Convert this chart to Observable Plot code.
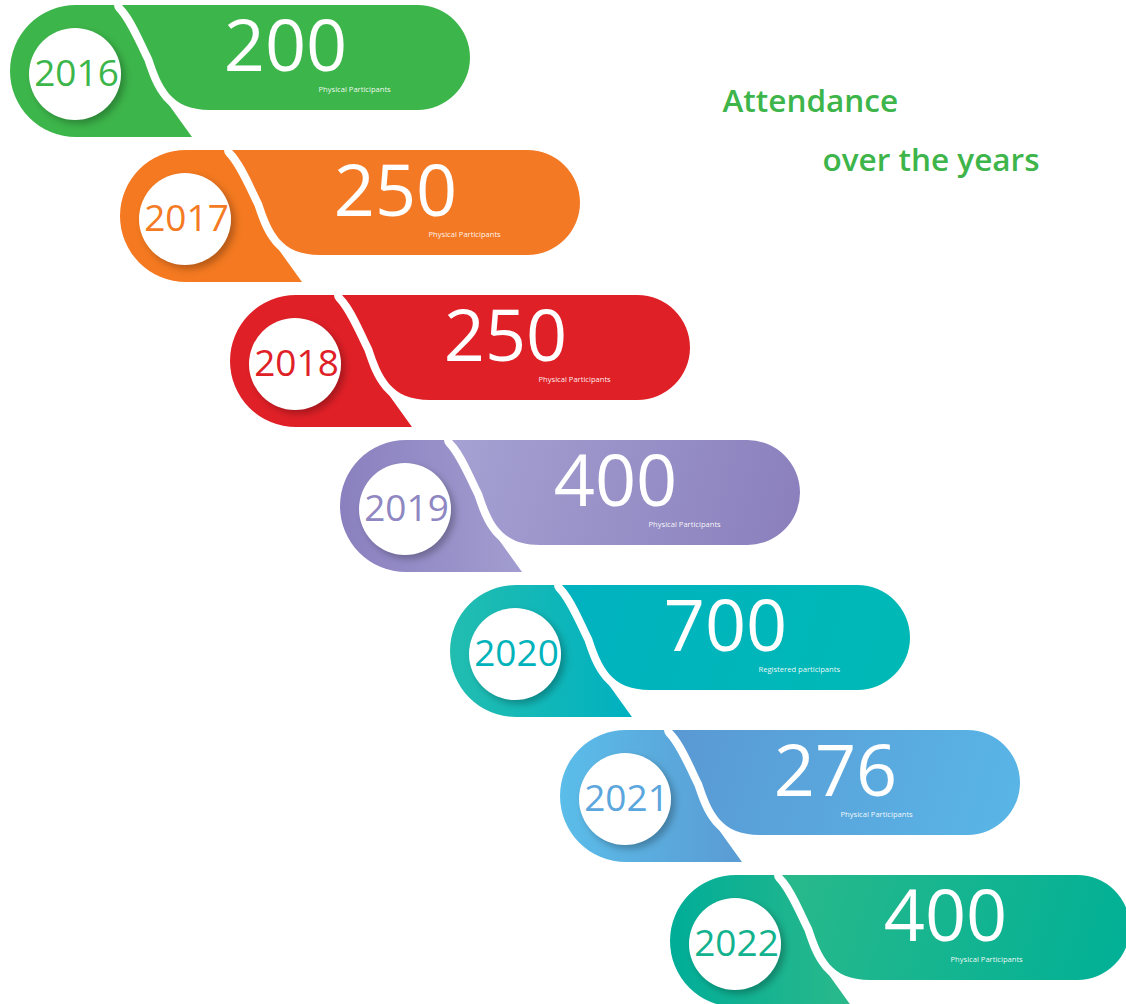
<!DOCTYPE html>
<html>
<head>
<meta charset="utf-8">
<script src="https://cdn.jsdelivr.net/npm/d3@7"></script>
<script src="https://cdn.jsdelivr.net/npm/@observablehq/plot@0.6"></script>
<style>
  body { margin: 0; background: #fff; }
  g[aria-label="year"] text { letter-spacing: -2.2px; }
  g[aria-label="value"] text { letter-spacing: -2.5px; }
</style>
</head>
<body>
<div id="chart"></div>
<script>
// ---- data ----
const years = [2016, 2017, 2018, 2019, 2020, 2021, 2022];
const values = [200, 250, 250, 400, 700, 276, 400];
const labels = [
  "Physical Participants", "Physical Participants", "Physical Participants",
  "Physical Participants", "Registered participants", "Physical Participants",
  "Physical Participants"
];
const yearColors = ["#3cb54a", "#f47a24", "#e02027", "#8f87c2", "#00b3ba", "#5aa6dd", "#12b28e"];
const dropFrom   = ["#3cb54a", "#f47920", "#e02027", "#8a80bf", "#22bdb0", "#5bbde9", "#00ad98"];
const dropTo     = ["#3cb54a", "#f47920", "#e02027", "#a29dd0", "#00b1c0", "#5a9bd3", "#2bb98a"];
const pillFrom   = ["#3cb54a", "#f47925", "#e02027", "#a6a2d3", "#00b2c0", "#5a98d3", "#2ab98a"];
const pillTo     = ["#3cb54a", "#f47925", "#e02027", "#8a7fbc", "#00b9b5", "#59b6e7", "#00b096"];
const titleLines = ["Attendance", "over the years"];

const rows = years.map((year, i) => ({
  year, value: values[i], label: labels[i], color: yearColors[i], i
}));

// ---- shapes drawn through the x/y scales ----
function shapes(index, scales) {
  const {x, y} = scales;
  const g = d3.create("svg:g");
  const defs = g.append("defs");
  const f = defs.append("filter").attr("id", "shadowBlur")
    .attr("x", "-40%").attr("y", "-40%").attr("width", "180%").attr("height", "180%");
  f.append("feGaussianBlur").attr("stdDeviation", 3.5);

  rows.forEach((d, i) => {
    const cx = x(d.year), cy = y(d.year);
    const r = 66;
    const L = cx + 37, T = cy - 66, R = cx + 394, H = 105, pr = H / 2;

    const dg = defs.append("linearGradient").attr("id", "dropG" + i)
      .attr("gradientUnits", "userSpaceOnUse")
      .attr("x1", cx - r).attr("y1", cy).attr("x2", cx + 116).attr("y2", cy);
    dg.append("stop").attr("offset", 0).attr("stop-color", dropFrom[i]);
    dg.append("stop").attr("offset", 1).attr("stop-color", dropTo[i]);

    const pg = defs.append("linearGradient").attr("id", "pillG" + i)
      .attr("gradientUnits", "userSpaceOnUse")
      .attr("x1", L).attr("y1", T).attr("x2", R).attr("y2", T + H);
    pg.append("stop").attr("offset", 0).attr("stop-color", pillFrom[i]);
    pg.append("stop").attr("offset", 1).attr("stop-color", pillTo[i]);

    // teardrop: circle + tail
    const drop =
      `M${cx - r},${cy} A${r},${r} 0 1,1 ${cx + r},${cy} A${r},${r} 0 1,1 ${cx - r},${cy} Z ` +
      `M${cx},${cy - r} L${cx + 124},${cy - r} L${cx + 124},${cy + 5} L${cx + 89.4},${cy + 29} ` +
      `L${cx + 116},${cy + 66} L${cx},${cy + 66} Z`;
    g.append("path").attr("d", drop).attr("fill", `url(#dropG${i})`);

    // pill with S-shaped left edge, white outline painted under the fill
    const pill =
      `M${L + 9},${T} C${L + 21},${T + 12} ${L + 30},${T + 35} ${L + 39},${T + 53} ` +
      `C${L + 48},${T + 80} ${L + 57},${T + H} ${L + 97},${T + H} ` +
      `L${R - pr},${T + H} A${pr},${pr} 0 0,0 ${R - pr},${T} Z`;
    g.append("path").attr("d", pill)
      .attr("fill", `url(#pillG${i})`)
      .attr("stroke", "#fff").attr("stroke-width", 16)
      .attr("stroke-linejoin", "round")
      .attr("paint-order", "stroke");

    // white disc with soft shadow
    g.append("circle").attr("cx", cx + 3).attr("cy", cy + 7).attr("r", 46)
      .attr("fill", "rgba(0,0,0,0.26)").attr("filter", "url(#shadowBlur)");
    g.append("circle").attr("cx", cx - 1).attr("cy", cy + 3).attr("r", 46)
      .attr("fill", "#fff");
  });
  return g.node();
}

const chart = Plot.plot({
  width: 1126,
  height: 1004,
  margin: 0,
  x: {domain: [2016, 2022], range: [76, 736], axis: null},
  y: {domain: [2016, 2022], range: [71, 941], axis: null},
  color: {type: "identity"},
  style: {background: "#fff"},
  marks: [
    shapes,
    Plot.text(rows, {
      x: "year", y: "year", text: d => String(d.year), fill: d => d.color,
      dx: 0, dy: 14, fontSize: 37, fontFamily: "Open Sans", textAnchor: "middle",
      lineAnchor: "bottom", ariaLabel: "year"
    }),
    Plot.text(rows, {
      x: "year", y: "year", text: d => String(d.value), fill: "#fff",
      dx: 209, dy: -1, fontSize: 72, fontFamily: "Open Sans", textAnchor: "middle",
      lineAnchor: "bottom", ariaLabel: "value"
    }),
    Plot.text(rows.filter(d => d.i < 5), {
      x: "year", y: "year", text: "label", fill: "#fff", fillOpacity: 0.95,
      dx: 242, dy: 20, fontSize: 7.6, fontFamily: "Open Sans", textAnchor: "start",
      lineAnchor: "bottom", ariaLabel: "label"
    }),
    Plot.text(rows.filter(d => d.i >= 5), {
      x: "year", y: "year", text: "label", fill: "#fff", fillOpacity: 0.95,
      dx: 214, dy: 20, fontSize: 7.6, fontFamily: "Open Sans", textAnchor: "start",
      lineAnchor: "bottom", ariaLabel: "label"
    }),
    Plot.text([titleLines[0]], {
      frameAnchor: "top-left", text: d => d, dx: 722, dy: 111,
      fontSize: 31.5, fontWeight: 600, fontFamily: "Open Sans", fill: "#3db54a",
      textAnchor: "start", lineAnchor: "bottom"
    }),
    Plot.text([titleLines[1]], {
      frameAnchor: "top-left", text: d => d, dx: 822, dy: 170,
      fontSize: 31.5, fontWeight: 600, fontFamily: "Open Sans", fill: "#3db54a",
      textAnchor: "start", lineAnchor: "bottom"
    })
  ]
});
document.getElementById("chart").appendChild(chart);
</script>
</body>
</html>
